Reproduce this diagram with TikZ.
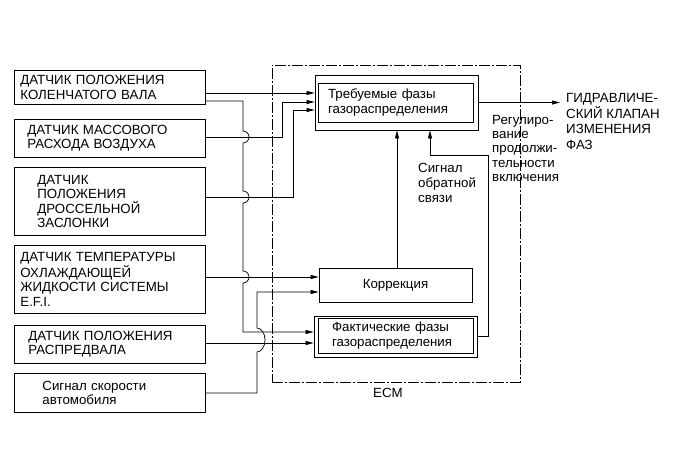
\documentclass[tikz,border=0pt]{standalone}
\usepackage{fontspec}
\setmainfont{Liberation Sans}
\usetikzlibrary{arrows.meta, positioning, calc}

\tikzset{
  txt/.style={font=\fontsize{13.3}{14.2}\selectfont},
  sensor/.style={txt, draw, line width=0.8pt, anchor=north west, align=left,
    inner ysep=0pt, minimum width=191pt},
  ecubox/.style={txt, draw, line width=0.8pt, inner sep=0pt},
  ecuin/.style={txt, draw, line width=0.8pt, align=left, inner ysep=0pt},
  ecmframe/.style={draw, line width=0.8pt, dash pattern=on 11pt off 2pt on 2pt off 2pt},
  sig/.style={-{Triangle[length=8pt, width=4pt]}, line width=0.7pt},
  note/.style={txt, align=left, anchor=north west, inner sep=0pt}
}

\begin{document}
\begin{tikzpicture}[x=1pt, y=-1pt]
  \useasboundingbox (0,0) rectangle (691,465);

  % sensors
  \node[sensor, inner xsep=6pt, text width=179pt, minimum height=34pt] (crank) at (14,70)
    {ДАТЧИК ПОЛОЖЕНИЯ\\КОЛЕНЧАТОГО ВАЛА};
  \node[sensor, inner xsep=13pt, text width=165pt, minimum height=38pt] (maf) at (14,119)
    {ДАТЧИК МАССОВОГО\\РАСХОДА ВОЗДУХА};
  \node[sensor, inner xsep=23pt, text width=145pt, minimum height=68pt] (thr) at (14,167)
    {ДАТЧИК\\ПОЛОЖЕНИЯ\\ДРОССЕЛЬНОЙ\\ЗАСЛОНКИ};
  \node[sensor, inner xsep=6pt, text width=179pt, minimum height=68pt] (thw) at (14,245)
    {ДАТЧИК ТЕМПЕРАТУРЫ\\ОХЛАЖДАЮЩЕЙ\\ЖИДКОСТИ СИСТЕМЫ\\E.F.I.};
  \node[sensor, inner xsep=14pt, text width=163pt, minimum height=38pt] (cam) at (14,325)
    {ДАТЧИК ПОЛОЖЕНИЯ\\РАСПРЕДВАЛА};
  \node[sensor, inner xsep=28pt, text width=135pt, minimum height=39pt] (spd) at (14,373)
    {Сигнал скорости\\автомобиля};

  % ECM
  \node[ecmframe, minimum width=248pt, minimum height=317pt] (ecm) at (396,223.5) {};
  \node[txt, inner sep=0pt] (ecmlbl) at (388,393) {ECM};

  \node[ecubox, minimum width=163pt, minimum height=55pt] (req) at (396.5,102.5) {};
  \node[ecuin, inner xsep=10pt, text width=135pt, minimum height=39pt] (reqin) at (395.5,102.5)
    {Требуемые фазы\\газораспределения};
  \node[ecubox, minimum width=153pt, minimum height=34pt] (corr) at (395.5,285) {Коррекция};
  \node[ecubox, minimum width=163pt, minimum height=41pt] (act) at (395.5,336.5) {};
  \node[ecuin, inner xsep=14pt, text width=127pt, minimum height=35pt] (actin) at (395.5,335.5)
    {Фактические фазы\\газораспределения};

  % labels
  \node[note, font=\fontsize{13.3}{15}\selectfont] (fb) at (418,163) {Сигнал\\обратной\\связи};
  \node[note, font=\fontsize{13.3}{14.3}\selectfont] (duty) at (492,115)
    {Регулиро-\\вание\\продолжи-\\тельности\\включения};
  \node[note, font=\fontsize{13.3}{15.7}\selectfont] (vvt) at (566,93)
    {ГИДРАВЛИЧЕ-\\СКИЙ КЛАПАН\\ИЗМЕНЕНИЯ\\ФАЗ};
  \coordinate (vvtin) at (560,102.5);

  % inputs
  \draw[sig] (crank.east |- 0,93) -- (req.west |- 0,93);
  \draw[sig] (crank.east |- 0,101) -- (243,101) -- (243,131)
    arc[start angle=90, end angle=-90, radius=6pt] -- (243,191)
    arc[start angle=90, end angle=-90, radius=6pt] -- (243,271)
    arc[start angle=90, end angle=-90, radius=6pt] -- (243,332) -- (act.west |- 0,332);
  \draw[sig] (maf.east |- 0,137) -- (282,137) -- (282,102) -- (req.west |- 0,102);
  \draw[sig] (thr.east |- 0,197) -- (293,197) -- (293,110) -- (req.west |- 0,110);
  \draw[sig] (thw.east |- 0,277) -- (corr.west |- 0,277);
  \draw[sig] (cam.east |- 0,343) -- (act.west |- 0,343);
  \draw[sig] (spd.east |- 0,393) -- (257,393) -- (257,352)
    arc[start angle=-90, end angle=90, x radius=8pt, y radius=12pt] -- (257,292)
    -- (corr.west |- 0,292);

  % inside ECM
  \draw[sig] (corr.north -| 397,0) -- (req.south -| 397,0);
  \draw[sig] (act.east) -- ++(11,0) |- (430,155) -- (req.south -| 430,0);
  \draw[sig] (req.east) -- (vvtin);
\end{tikzpicture}
\end{document}
